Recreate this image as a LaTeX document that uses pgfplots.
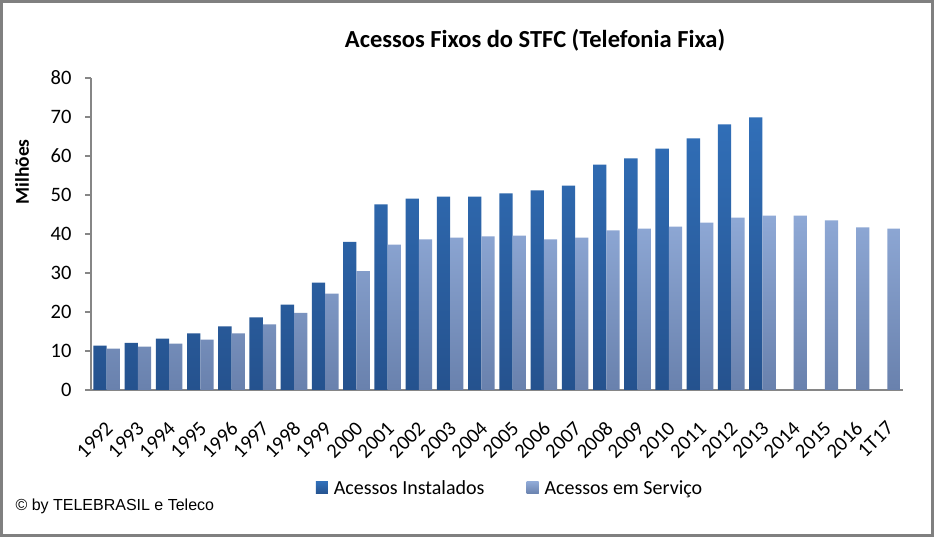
\documentclass[border=0pt]{standalone}
\usepackage{fontspec}
\setmainfont{Carlito}
\newfontfamily\tahoma{Liberation Sans}
\usepackage{pgfplots}
\usepackage{pgfplotstable}
\pgfplotsset{compat=1.18}

\definecolor{instTop}{RGB}{49,111,184}
\definecolor{instBot}{RGB}{37,82,142}
\definecolor{servTop}{RGB}{143,169,214}
\definecolor{servBot}{RGB}{105,129,173}
\definecolor{axisgray}{RGB}{134,134,134}
\definecolor{framegray}{RGB}{128,128,128}

\pgfplotstableread{
x lbl inst serv
0  1992 11.4 10.6
1  1993 12.1 11.1
2  1994 13.2 11.9
3  1995 14.5 12.9
4  1996 16.3 14.5
5  1997 18.6 16.8
6  1998 21.9 19.8
7  1999 27.5 24.7
8  2000 38.0 30.5
9  2001 47.6 37.3
10 2002 49.1 38.6
11 2003 49.6 39.1
12 2004 49.6 39.4
13 2005 50.4 39.6
14 2006 51.2 38.6
15 2007 52.4 39.1
16 2008 57.8 40.9
17 2009 59.4 41.4
18 2010 61.9 41.9
19 2011 64.5 42.9
20 2012 68.1 44.2
21 2013 69.9 44.7
22 2014 nan  44.7
23 2015 nan  43.5
24 2016 nan  41.7
25 1T17 nan  41.4
}\acessos

\begin{document}
\begin{tikzpicture}[x=1pt,y=1pt]
\useasboundingbox (0,0) rectangle (934,537);
\fill[white] (0,0) rectangle (934,537);

\begin{axis}[
  at={(91pt,147pt)}, anchor=south west,
  scale only axis, width=812pt, height=312pt,
  ybar=0pt, bar width=13.3pt,
  xmin=-0.5, xmax=25.5, ymin=0, ymax=80,
  ytick={0,10,...,80},
  xtick={0,1,...,25},
  xticklabels={1992,1993,1994,1995,1996,1997,1998,1999,2000,2001,2002,2003,2004,2005,2006,2007,2008,2009,2010,2011,2012,2013,2014,2015,2016,1T17},
  axis x line*=bottom, axis y line*=left,
  axis line style={draw=axisgray, line width=1.5pt, -},
  x tick style={draw=none},
  y tick style={draw=axisgray, line width=1.5pt},
  major tick length=6pt,
  tick align=outside,
  /pgf/number format/assume math mode=true,
  tick label style={font=\fontsize{20.5}{20.5}\selectfont},
  yticklabel style={xshift=-10pt},
  xticklabel style={xshift=-2pt, yshift=-24pt, rotate=45, anchor=north east, inner sep=0pt},
  legend style={at={(0.516,-0.314)}, anchor=center, draw=none,
    font=\fontsize{20}{20}\selectfont, legend columns=2,
    /tikz/every odd column/.append style={column sep=4pt},
    /tikz/every even column/.append style={column sep=40pt}},
  legend cell align=left,
]
\addplot[draw=none, top color=instTop, bottom color=instBot,
  legend image code/.code={\fill[instBot!70!instTop] (0pt,-6pt) rectangle (12pt,6pt);}]
  table[x=x, y=inst] {\acessos};
\addlegendentry{Acessos Instalados}
\addplot[draw=none, top color=servTop, bottom color=servBot,
  legend image code/.code={\fill[servTop!80!servBot] (0pt,-6pt) rectangle (12pt,6pt);}]
  table[x=x, y=serv] {\acessos};
\addlegendentry{Acessos em Serviço}
\end{axis}

\node[font=\fontsize{24.5}{24.5}\selectfont\bfseries] at (535,497) {Acessos Fixos do STFC (Telefonia Fixa)};
\node[font=\fontsize{19.5}{19.5}\selectfont\bfseries, rotate=90] at (22,365) {Milhões};
\node[font=\tahoma\fontsize{16}{16}\selectfont, anchor=west] at (12,31) {© by TELEBRASIL e Teleco};

\draw[framegray, line width=3pt] (1.5,1.5) rectangle (932.5,535.5);
\end{tikzpicture}
\end{document}
